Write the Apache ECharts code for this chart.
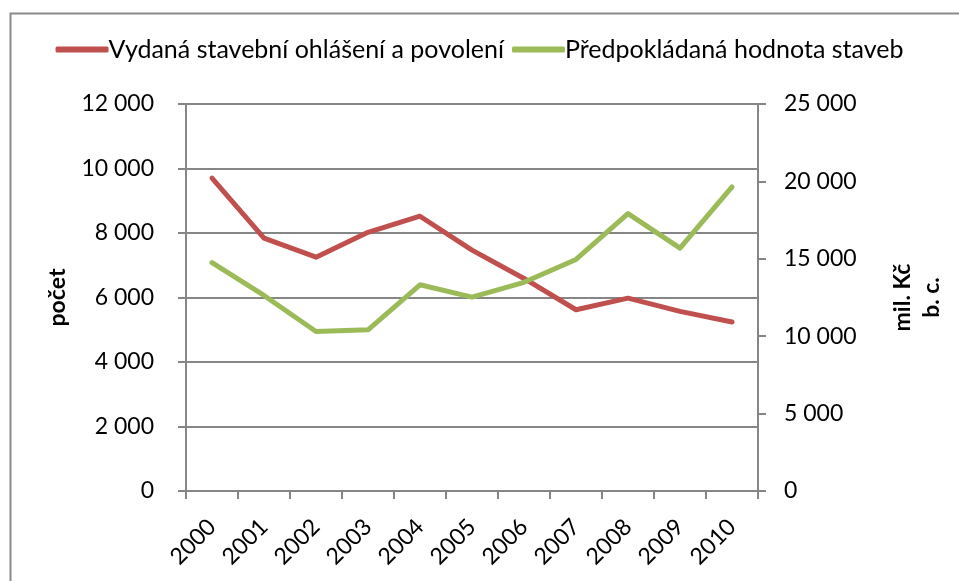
<!DOCTYPE html>
<html>
<head>
<meta charset="utf-8">
<script src="https://cdn.jsdelivr.net/npm/echarts@6/dist/echarts.min.js"></script>
<style>
  html, body { margin: 0; padding: 0; background: #fff; }
  #chart { width: 959px; height: 581px; }
</style>
</head>
<body>
<div id="chart"></div>
<script>
const years = ['2000', '2001', '2002', '2003', '2004', '2005', '2006', '2007', '2008', '2009', '2010'];
// počet (left axis)
const permits = [9700, 7840, 7250, 8020, 8520, 7470, 6590, 5620, 5980, 5570, 5240];
// mil. Kč b. c. (right axis)
const buildValue = [14750, 12630, 10300, 10410, 13320, 12520, 13480, 14960, 17920, 15690, 19640];
const leftTicks = { min: 0, max: 12000, interval: 2000 };
const rightTicks = { min: 0, max: 25000, interval: 5000 };

const FONT = 'Lato, "Open Sans", sans-serif';
const GRAY = '#868686';

function spaced(v) {
  return String(v).replace(/\B(?=(\d{3})+(?!\d))/g, ' ');
}

const chart = echarts.init(document.getElementById('chart'));
const option = {
  animation: false,
  textStyle: { fontFamily: FONT },
  graphic: [{
    type: 'rect',
    left: 8, top: 11,
    shape: { width: 1000, height: 1000 },
    style: { fill: 'none', stroke: '#8a8a8a', lineWidth: 2 }
  }],
  legend: {
    top: 32,
    left: 'center',
    itemWidth: 53,
    itemHeight: 6,
    itemGap: 8,
    textStyle: { fontSize: 25, color: '#000', fontFamily: FONT, padding: [0, 0, 0, -5] },
    data: [
      { name: 'Vydaná stavební ohlášení a povolení', icon: 'roundRect' },
      { name: 'Předpokládaná hodnota staveb', icon: 'roundRect' }
    ]
  },
  grid: { left: 186, right: 201, top: 104, bottom: 90 },
  xAxis: {
    type: 'category',
    data: years,
    boundaryGap: true,
    axisLine: { lineStyle: { color: GRAY, width: 2 } },
    axisTick: { show: true, length: 8, lineStyle: { color: GRAY, width: 2 } },
    axisLabel: { rotate: 45, margin: 32, fontSize: 23, color: '#000', fontFamily: FONT, interval: 0 }
  },
  yAxis: [
    {
      type: 'value',
      position: 'left',
      min: leftTicks.min, max: leftTicks.max, interval: leftTicks.interval,
      name: 'počet',
      nameLocation: 'middle',
      nameRotate: 90,
      nameGap: 117,
      nameTextStyle: { fontSize: 23, fontWeight: 'bold', color: '#000', fontFamily: FONT },
      axisLine: { show: true, lineStyle: { color: GRAY, width: 2 } },
      axisTick: { show: true, length: 8, lineStyle: { color: GRAY, width: 2 } },
      axisLabel: { margin: 32, fontSize: 23, color: '#000', fontFamily: FONT, formatter: spaced },
      splitLine: { show: true, lineStyle: { color: GRAY, width: 2 } }
    },
    {
      type: 'value',
      position: 'right',
      min: rightTicks.min, max: rightTicks.max, interval: rightTicks.interval,
      name: 'mil. Kč\nb. c.',
      nameLocation: 'middle',
      nameRotate: 90,
      nameGap: 130,
      nameTextStyle: { fontSize: 23, fontWeight: 'bold', color: '#000', fontFamily: FONT, align: 'center', lineHeight: 29 },
      axisLine: { show: true, lineStyle: { color: GRAY, width: 2 } },
      axisTick: { show: true, length: 8, lineStyle: { color: GRAY, width: 2 } },
      axisLabel: { margin: 26, fontSize: 23, color: '#000', fontFamily: FONT, formatter: spaced },
      splitLine: { show: false }
    }
  ],
  series: [
    {
      name: 'Vydaná stavební ohlášení a povolení',
      type: 'line',
      yAxisIndex: 0,
      data: permits,
      symbol: 'none',
      color: '#C0504D',
      lineStyle: { width: 5, color: '#C0504D', cap: 'round', join: 'round' }
    },
    {
      name: 'Předpokládaná hodnota staveb',
      type: 'line',
      yAxisIndex: 1,
      data: buildValue,
      symbol: 'none',
      color: '#9BBB59',
      lineStyle: { width: 5, color: '#9BBB59', cap: 'round', join: 'round' }
    }
  ]
};
chart.setOption(option);
</script>
</body>
</html>
